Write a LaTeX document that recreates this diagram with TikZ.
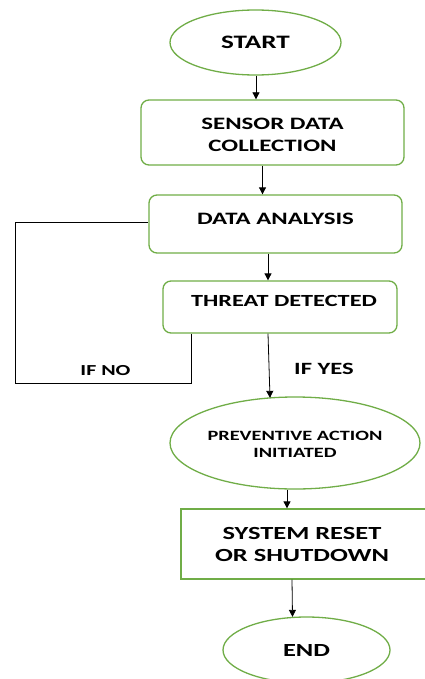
\documentclass[tikz,border=0pt]{standalone}
\usepackage{fontspec}
\setmainfont{Carlito}[FakeStretch=1.43]
\usetikzlibrary{shapes.geometric,arrows.meta}
\definecolor{flowgreen}{HTML}{70AD47}
\tikzset{
  oval/.style={ellipse, draw=flowgreen, line width=1.3pt, fill=white, inner sep=0pt},
  roundbox/.style={rectangle, rounded corners=8pt, draw=flowgreen, line width=1.3pt, inner sep=0pt},
  plainbox/.style={rectangle, draw=flowgreen, line width=1.3pt, inner sep=0pt},
  txt/.style={align=center, inner sep=0pt, font=\bfseries},
  flow/.style={draw=black, line width=0.8pt, -{Triangle[length=7pt,width=7pt]}},
  wire/.style={draw=black, line width=0.8pt}
}
\begin{document}
\begin{tikzpicture}[x=1pt,y=-1pt]
\useasboundingbox (0,0) rectangle (424,679);

% process steps
\node[oval, minimum width=171pt, minimum height=65pt] (start) at (255.5,42.5) {};
\node[txt, font=\bfseries\fontsize{19}{23}\selectfont] (starttxt) at (255.5,42) {START};

\node[roundbox, minimum width=263pt, minimum height=65pt] (sensor) at (272.5,132.5) {};
\node[txt, font=\bfseries\fontsize{17.4}{22}\selectfont] (sensortxt) at (272.5,135) {SENSOR DATA\\COLLECTION};

\node[roundbox, minimum width=253pt, minimum height=58pt] (analysis) at (275.5,224) {};
\node[txt, font=\bfseries\fontsize{17.4}{22}\selectfont] (analysistxt) at (275.5,219) {DATA ANALYSIS};

\node[roundbox, minimum width=234pt, minimum height=52pt] (threat) at (280,307) {};
\node[txt, font=\bfseries\fontsize{17}{21}\selectfont] (threattxt) at (284,301) {THREAT DETECTED};

\node[oval, minimum width=250pt, minimum height=92pt] (prev) at (295,443) {};
\node[txt, font=\bfseries\fontsize{14.2}{17}\selectfont] (prevtxt) at (295,444.5) {PREVENTIVE ACTION\\INITIATED};

\node[plainbox, minimum width=246pt, minimum height=70pt] (reset) at (304,544) {};
\node[txt, font=\bfseries\fontsize{18.5}{22}\selectfont] (resettxt) at (302,544) {SYSTEM RESET\\OR SHUTDOWN};

\node[oval, minimum width=167pt, minimum height=66pt] (end) at (306.5,650) {};
\node[txt, font=\bfseries\fontsize{18.5}{22}\selectfont] (endtxt) at (306.5,650) {END};

% branch labels
\node[txt, font=\bfseries\fontsize{15.3}{18}\selectfont] (ifno) at (105.5,371) {IF NO};
\node[txt, font=\bfseries\fontsize{17.2}{20}\selectfont] (ifyes) at (324,369) {IF YES};

% main flow
\draw[flow] ([xshift=0.5pt]start.south) -- ([xshift=0.5pt]start.south |- sensor.north);
\draw[flow] ([xshift=-10pt]sensor.south) -- ([xshift=-10pt]sensor.south |- analysis.north);
\draw[flow] ([xshift=-7.5pt]analysis.south) -- ([xshift=-7.5pt]analysis.south |- threat.north);
\draw[flow] ([xshift=-12pt]threat.south) -- ([xshift=-25pt,yshift=-1.5pt]prev.north);
\draw[flow] ([xshift=-8pt]prev.south) -- ([xshift=-8pt]prev.south |- reset.north);
\draw[flow] ([xshift=-12pt]reset.south) -- ([xshift=-14pt,yshift=-0.5pt]end.north);

% return path when no threat is found
\coordinate (loopa) at (15,222);
\coordinate (loopb) at (15,383);
\coordinate (loopc) at (191,383);
\draw[wire] (loopc |- threat.south) -- (loopc) -- (loopb) -- (loopa) -- (loopa -| analysis.west);
\end{tikzpicture}
\end{document}
